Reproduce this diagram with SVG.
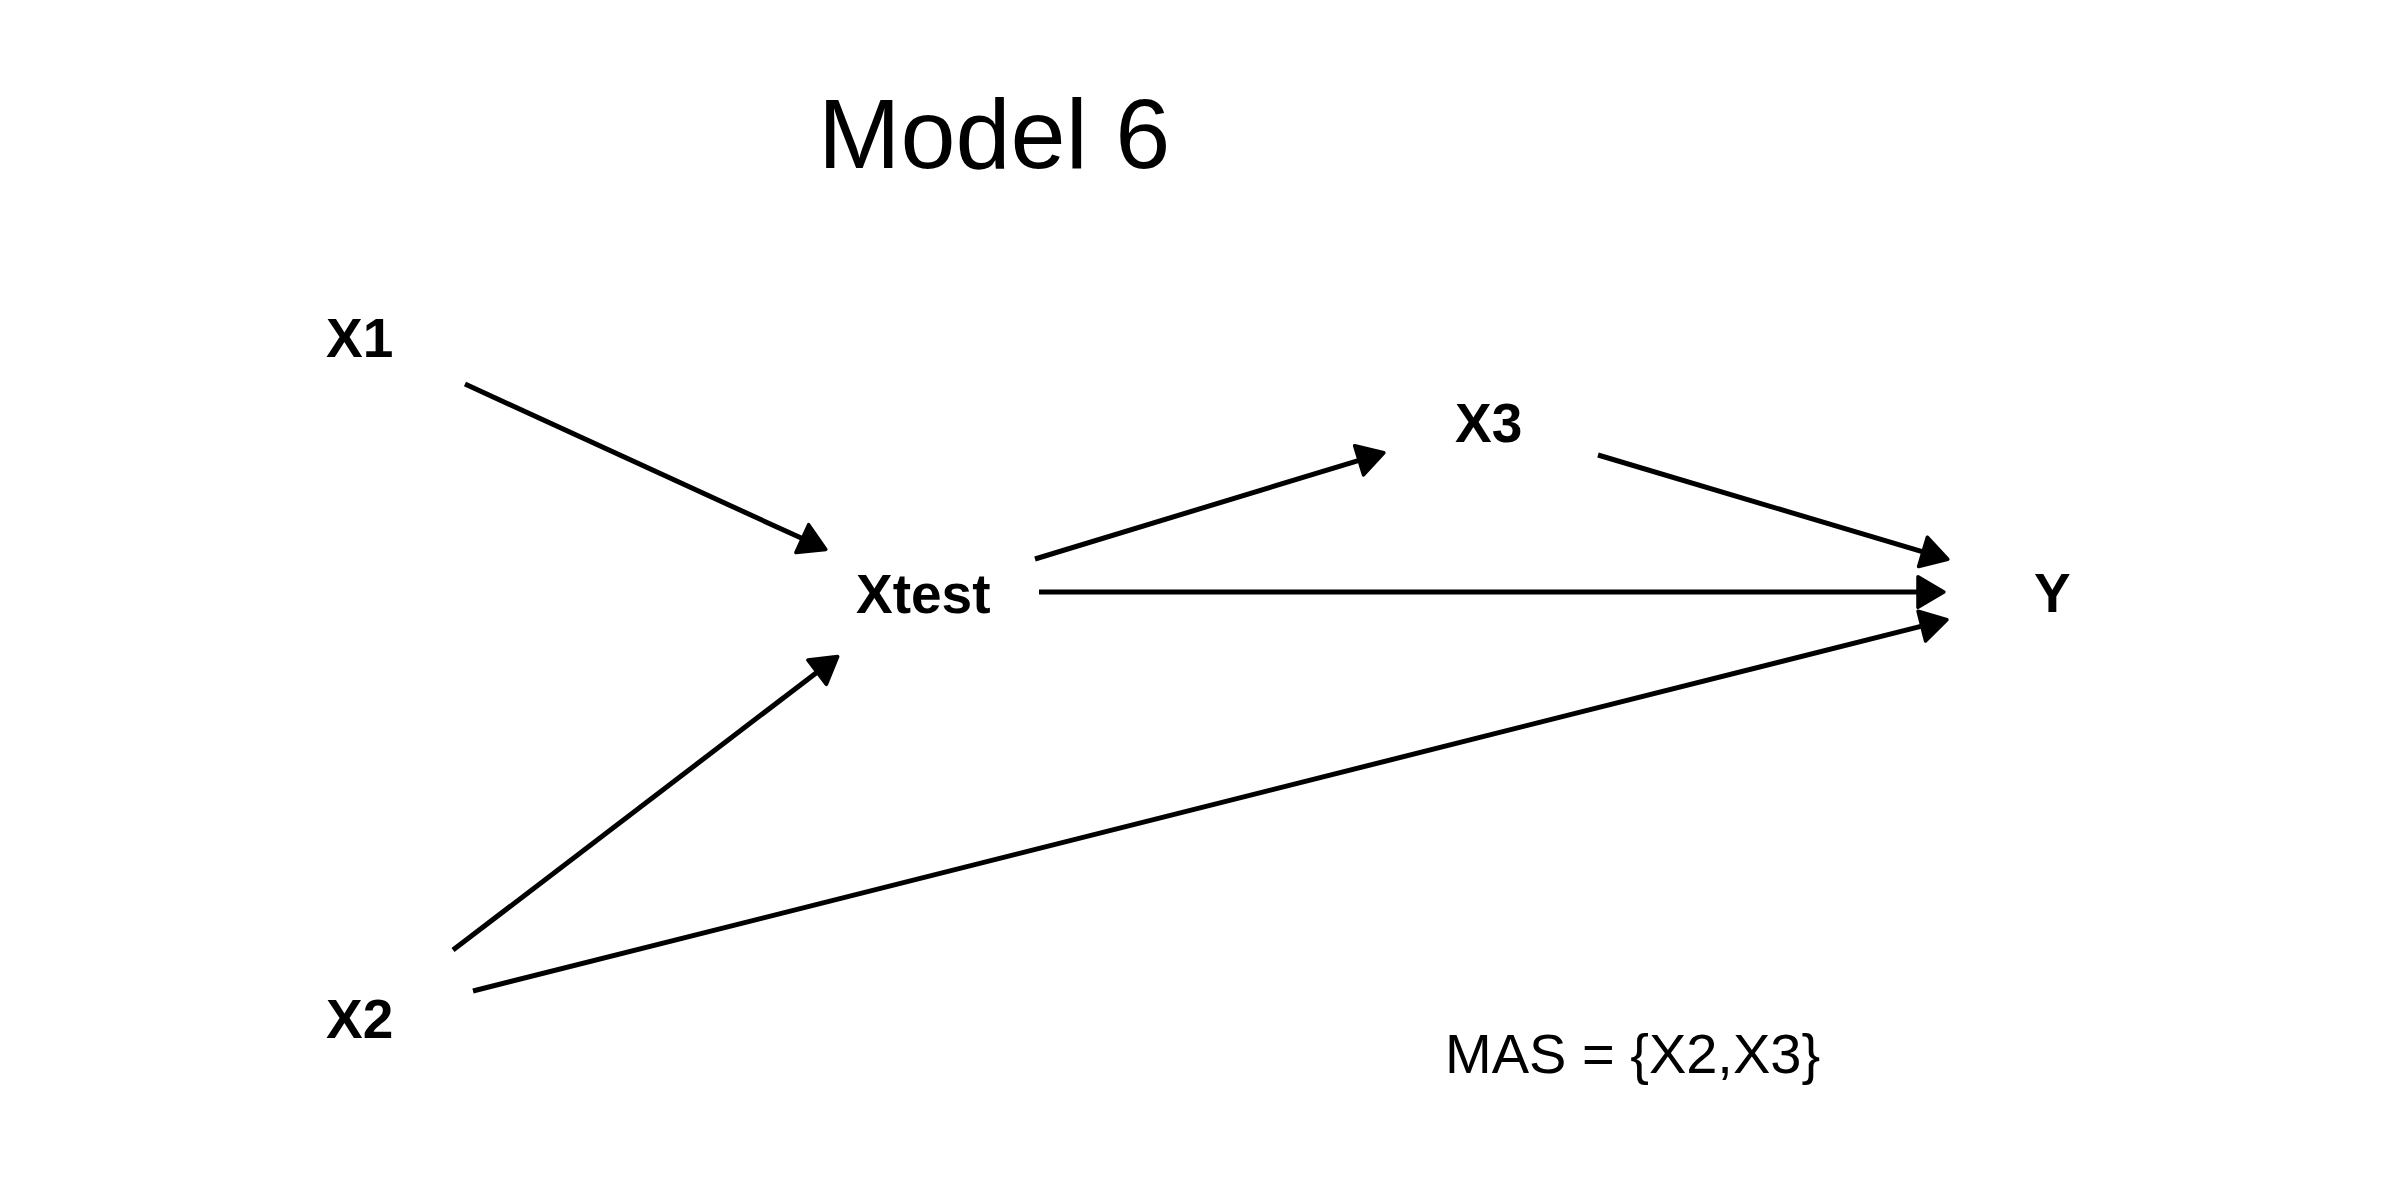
<svg xmlns="http://www.w3.org/2000/svg" width="2400" height="1200" viewBox="0 0 2400 1200">
  <style>
    .node { font-family: "Liberation Sans", Arial, sans-serif; font-weight: bold; font-size: 55px; fill: #000; }
    .title { font-family: "Liberation Sans", Arial, sans-serif; font-size: 99px; fill: #000; }
    .note { font-family: "Liberation Sans", Arial, sans-serif; font-size: 56px; fill: #000; }
    .edge { stroke: #000; stroke-width: 5; fill: none; marker-end: url(#arrow); }
  </style>
  <defs>
    <marker id="arrow" markerUnits="userSpaceOnUse" markerWidth="40" markerHeight="40" viewBox="-3 -17 34 34" refX="0" refY="0" orient="auto">
      <path d="M0,-13 L22,0 L0,13 Z" fill="#000" stroke="#000" stroke-width="3" stroke-linejoin="round"/>
    </marker>
  </defs>
  <rect width="2400" height="1200" fill="#fff"/>
  <text class="title" x="818" y="168">Model 6</text>
  <g id="connectors">
    <line class="edge" x1="465" y1="384" x2="802.3" y2="538.6"/>
    <line class="edge" x1="453" y1="950" x2="817.1" y2="672.2"/>
    <line class="edge" x1="1035" y1="559" x2="1359.1" y2="460.3"/>
    <line class="edge" x1="1598" y1="455" x2="1923" y2="551.9"/>
    <line class="edge" x1="1039" y1="592" x2="1918" y2="592"/>
    <line class="edge" x1="473" y1="991" x2="1921.8" y2="626.1"/>
  </g>
  <g id="node-X1"><text class="node" x="326" y="357">X1</text></g>
  <g id="node-X2"><text class="node" x="326" y="1038">X2</text></g>
  <g id="node-Xtest"><text class="node" x="856" y="613">Xtest</text></g>
  <g id="node-X3"><text class="node" x="1455" y="442">X3</text></g>
  <g id="node-Y"><text class="node" x="2034" y="612">Y</text></g>
  <text class="note" x="1445" y="1073">MAS = {X2,X3}</text>
</svg>
